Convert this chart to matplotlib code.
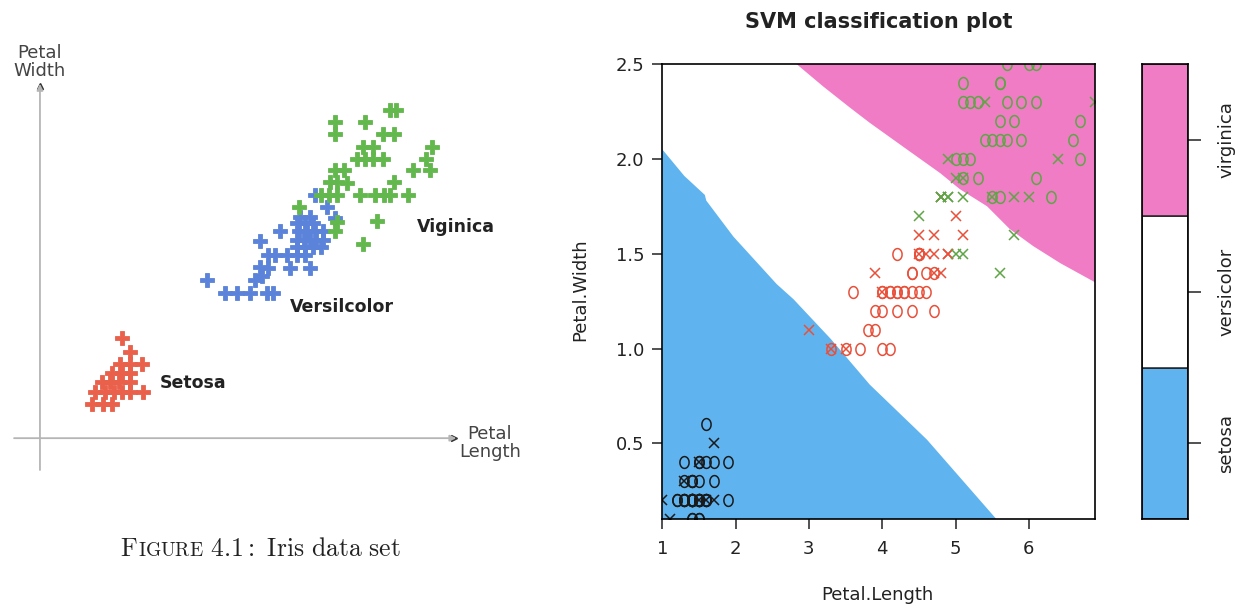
import matplotlib
matplotlib.use("Agg")
import matplotlib.pyplot as plt
import numpy as np
from matplotlib.path import Path

plt.rcParams['font.family'] = 'DejaVu Sans'
plt.rcParams['mathtext.fontset'] = 'cm'

W, H = 1246, 607


def fx(px):
    return px / W


def fy(py):
    return 1 - py / H


# ---------------- left sketch: petal length / width
sk_setosa_len = [1.62, 1.75, 1.59, 1.76, 1.95, 1.46, 1.62, 1.76, 1.30, 1.43, 1.57,
                 1.76, 1.19, 1.35, 1.49, 1.62, 1.76, 1.97, 1.14, 1.32, 1.46]
sk_setosa_wid = [0.62, 0.51, 0.41, 0.41, 0.41, 0.33, 0.33, 0.33, 0.26, 0.26, 0.26,
                 0.26, 0.18, 0.18, 0.18, 0.18, 0.18, 0.18, 0.08, 0.08, 0.08]

sk_versi_len = [3.00, 3.30, 3.49, 3.70, 3.97, 4.07, 3.78, 3.89, 3.86, 4.00, 4.35, 4.68,
                4.00, 4.11, 4.30, 4.46, 4.59, 3.86, 4.19,
                4.46, 4.59, 4.73, 4.86, 4.46, 4.57, 4.68, 4.78, 4.89,
                4.49, 4.62, 4.76, 4.89, 4.46, 4.59, 4.73, 4.51, 4.68,
                4.76, 4.95, 5.08]
sk_versi_wid = [1.10, 0.99, 0.99, 0.99, 0.99, 0.99, 1.10, 1.13, 1.21, 1.20, 1.20, 1.20,
                1.31, 1.31, 1.31, 1.31, 1.31, 1.42, 1.50,
                1.37, 1.37, 1.37, 1.37, 1.43, 1.43, 1.43, 1.43, 1.43,
                1.50, 1.50, 1.50, 1.50, 1.57, 1.57, 1.57, 1.62, 1.62,
                1.80, 1.70, 1.61]

sk_virgi_len = [5.97, 6.07, 5.08, 5.08, 5.57, 5.86, 6.04, 6.65, 5.54, 5.69, 5.43, 5.57,
                5.70, 5.86, 6.56, 6.34, 6.62, 5.08, 5.22, 5.00, 5.11, 5.27, 6.03,
                4.86, 4.99, 5.11, 5.48, 5.73, 5.88, 5.98, 6.27, 4.49, 5.11, 5.08,
                5.76, 5.54]
sk_virgi_wid = [2.50, 2.50, 2.40, 2.30, 2.40, 2.30, 2.30, 2.20, 2.20, 2.20, 2.10, 2.10,
                2.10, 2.10, 2.10, 2.01, 2.01, 2.01, 2.01, 1.91, 1.91, 1.90, 1.91,
                1.80, 1.80, 1.80, 1.80, 1.80, 1.80, 1.80, 1.80, 1.70, 1.58, 1.50,
                1.59, 1.40]

sk_labels = ["Setosa", "Versilcolor", "Viginica"]

# ---------------- right plot: iris petal data, support vectors, decision regions
setosa_len = [1.4, 1.4, 1.3, 1.5, 1.4, 1.7, 1.4, 1.5, 1.4, 1.5, 1.5, 1.6, 1.4, 1.1, 1.2,
              1.5, 1.3, 1.4, 1.7, 1.5, 1.7, 1.5, 1.0, 1.7, 1.9, 1.6, 1.6, 1.5, 1.4, 1.6,
              1.6, 1.5, 1.5, 1.4, 1.5, 1.2, 1.3, 1.4, 1.3, 1.5, 1.3, 1.3, 1.3, 1.6, 1.9,
              1.4, 1.6, 1.4, 1.5, 1.4]
setosa_wid = [0.2, 0.2, 0.2, 0.2, 0.2, 0.4, 0.3, 0.2, 0.2, 0.1, 0.2, 0.2, 0.1, 0.1, 0.2,
              0.4, 0.4, 0.3, 0.3, 0.3, 0.2, 0.4, 0.2, 0.5, 0.2, 0.2, 0.4, 0.2, 0.2, 0.2,
              0.2, 0.4, 0.1, 0.2, 0.2, 0.2, 0.2, 0.1, 0.2, 0.2, 0.3, 0.3, 0.2, 0.6, 0.4,
              0.3, 0.2, 0.2, 0.2, 0.2]
versi_len = [4.7, 4.5, 4.9, 4.0, 4.6, 4.5, 4.7, 3.3, 4.6, 3.9, 3.5, 4.2, 4.0, 4.7, 3.6,
             4.4, 4.5, 4.1, 4.5, 3.9, 4.8, 4.0, 4.9, 4.7, 4.3, 4.4, 4.8, 5.0, 4.5, 3.5,
             3.8, 3.7, 3.9, 5.1, 4.5, 4.5, 4.7, 4.4, 4.1, 4.0, 4.4, 4.6, 4.0, 3.3, 4.2,
             4.2, 4.2, 4.3, 3.0, 4.1]
versi_wid = [1.4, 1.5, 1.5, 1.3, 1.5, 1.3, 1.6, 1.0, 1.3, 1.4, 1.0, 1.5, 1.0, 1.4, 1.3,
             1.4, 1.5, 1.0, 1.5, 1.1, 1.8, 1.3, 1.5, 1.2, 1.3, 1.4, 1.4, 1.7, 1.5, 1.0,
             1.1, 1.0, 1.2, 1.6, 1.5, 1.6, 1.5, 1.3, 1.3, 1.3, 1.2, 1.4, 1.2, 1.0, 1.3,
             1.2, 1.3, 1.3, 1.1, 1.3]
virgi_len = [6.0, 5.1, 5.9, 5.6, 5.8, 6.6, 4.5, 6.3, 5.8, 6.1, 5.1, 5.3, 5.5, 5.0, 5.1,
             5.3, 5.5, 6.7, 6.9, 5.0, 5.7, 4.9, 6.7, 4.9, 5.7, 6.0, 4.8, 4.9, 5.6, 5.8,
             6.1, 6.4, 5.6, 5.1, 5.6, 6.1, 5.6, 5.5, 4.8, 5.4, 5.6, 5.1, 5.1, 5.9, 5.7,
             5.2, 5.0, 5.2, 5.4, 5.1]
virgi_wid = [2.5, 1.9, 2.1, 1.8, 2.2, 2.1, 1.7, 1.8, 1.8, 2.5, 2.0, 1.9, 2.1, 2.0, 2.4,
             2.3, 1.8, 2.2, 2.3, 1.5, 2.3, 2.0, 2.0, 1.8, 2.1, 1.8, 1.8, 1.8, 2.1, 1.6,
             1.9, 2.0, 2.2, 1.5, 1.4, 2.3, 2.4, 1.8, 1.8, 2.1, 2.4, 2.3, 1.9, 2.3, 2.5,
             2.3, 1.9, 2.0, 2.3, 1.8]

# support vectors (index within each class)
setosa_sv = [3, 11, 13, 15, 20, 22, 23, 41]
versi_sv = [2, 3, 4, 6, 7, 9, 10, 13, 18, 20, 22, 26, 27, 33, 35, 36, 48]
virgi_sv = [1, 6, 8, 16, 18, 19, 21, 23, 25, 26, 27, 29, 31, 33, 34, 38, 46, 48, 49]

# decision boundaries
setosa_bnd_x = [1.0, 1.3, 1.58, 1.6, 1.97, 2.56, 2.79, 3.3, 3.83, 4.61, 5.56]
setosa_bnd_y = [2.05, 1.91, 1.81, 1.78, 1.59, 1.34, 1.26, 1.05, 0.81, 0.52, 0.1]
virgi_bnd_x = [2.83, 3.2, 3.56, 3.83, 4.3, 4.79, 5.06, 5.43, 5.74, 6.06, 6.43, 6.9]
virgi_bnd_y = [2.5, 2.38, 2.27, 2.19, 2.06, 1.925, 1.84, 1.75, 1.63, 1.54, 1.45, 1.35]

classes = ["setosa", "versicolor", "virginica"]
region_colors = ["#5fb4f0", "#ffffff", "#f07cc6"]
point_colors = ["#1a1a1a", "#e8503a", "#5ea645"]
sketch_colors = ["#e9604b", "#5b83da", "#62b84c"]

xmin, xmax = 1.0, 6.9
ymin, ymax = 0.1, 2.5

fig = plt.figure(figsize=(W / 100, H / 100), dpi=100)

# ================= left sketch =================
ax0 = fig.add_axes([0, fy(520), 540 / W, 490 / H])
ax0.set_xlim(-0.352, 8.405)
ax0.set_ylim(-0.879, 3.161)
ax0.axis('off')

# sketch axes with arrows
ax0.annotate('', xy=(0.074, 0.890), xytext=(0.074, 0.102), xycoords='axes fraction',
             arrowprops=dict(arrowstyle='-|>', color='#b5b5b5', lw=1.3,
                             mutation_scale=9, shrinkA=0, shrinkB=0))
ax0.annotate('', xy=(0.845, 0.167), xytext=(0.026, 0.167), xycoords='axes fraction',
             arrowprops=dict(arrowstyle='-|>', color='#b5b5b5', lw=1.3,
                             mutation_scale=9, shrinkA=0, shrinkB=0))
# dark arrow heads
ax0.plot([0.074], [0.886], marker='^', ms=5, color='#333333', transform=ax0.transAxes)
ax0.plot([0.840], [0.167], marker='>', ms=5, color='#333333', transform=ax0.transAxes)

sk_len = [sk_setosa_len, sk_versi_len, sk_virgi_len]
sk_wid = [sk_setosa_wid, sk_versi_wid, sk_virgi_wid]
for lx, wy, c in zip(sk_len, sk_wid, sketch_colors):
    ax0.plot(lx, wy, linestyle='none', marker='P', ms=9.5, mew=0.6, mec=c, color=c)

fig.text(fx(40), fy(62), "Petal\nWidth", ha='center', va='center', fontsize=13,
         color='#444444', linespacing=1.0)
fig.text(fx(490), fy(443), "Petal\nLength", ha='center', va='center', fontsize=13,
         color='#444444', linespacing=1.0)
fig.text(fx(160), fy(383), sk_labels[0], ha='left', va='center', fontsize=12.5,
         fontweight='bold', color='#222222')
fig.text(fx(290), fy(307), sk_labels[1], ha='left', va='center', fontsize=12.5,
         fontweight='bold', color='#222222')
fig.text(fx(417), fy(227), sk_labels[2], ha='left', va='center', fontsize=12.5,
         fontweight='bold', color='#222222')

# caption with small caps
renderer = fig.canvas.get_renderer()
cap_x = fx(120)
cap_y = fy(556)
parts = [(r"$\mathrm{F}$", 18.5), (r"$\mathrm{IGURE}$", 14),
         (r"$\mathrm{\ 4.1{:}\ Iris\ data\ set}$", 18.5)]
for s, size in parts:
    t = fig.text(cap_x, cap_y, s, ha='left', va='baseline', fontsize=size, color='#222222')
    bb = t.get_window_extent(renderer)
    cap_x = bb.x1 / fig.bbox.width

# ================= right: SVM plot =================
ax = fig.add_axes([fx(662.3), fy(519.3), (1094.8 - 662.3) / W, (519.3 - 64) / H])
ax.set_xlim(xmin, xmax)
ax.set_ylim(ymin, ymax)

sx = [xmin] + setosa_bnd_x
sy = [ymin] + setosa_bnd_y
ax.fill(sx, sy, color=region_colors[0], lw=0, zorder=1)
vx = virgi_bnd_x + [xmax]
vy = virgi_bnd_y + [ymax]
ax.fill(vx, vy, color=region_colors[2], lw=0, zorder=1)

theta = np.linspace(0, 2 * np.pi, 40)
oval = Path(np.column_stack([0.78 * np.cos(theta), np.sin(theta)]))

all_len = [setosa_len, versi_len, virgi_len]
all_wid = [setosa_wid, versi_wid, virgi_wid]
all_sv = [setosa_sv, versi_sv, virgi_sv]
for lx, wy, sv, c in zip(all_len, all_wid, all_sv, point_colors):
    lx = np.array(lx)
    wy = np.array(wy)
    is_sv = np.zeros(len(lx), bool)
    is_sv[sv] = True
    ax.plot(lx[~is_sv], wy[~is_sv], linestyle='none', marker=oval, ms=8.5,
            mfc='none', mec=c, mew=1.1, zorder=3, clip_on=True)
    ax.plot(lx[is_sv], wy[is_sv], linestyle='none', marker='x', ms=7,
            mec=c, mew=1.1, zorder=4, clip_on=True)

ax.set_xticks([1, 2, 3, 4, 5, 6])
ax.set_yticks([0.5, 1.0, 1.5, 2.0, 2.5])
ax.set_yticklabels(["0.5", "1.0", "1.5", "2.0", "2.5"])
ax.tick_params(direction='out', length=7, width=1.1, labelsize=13, colors='#222222')
ax.tick_params(axis='x', pad=8)
ax.tick_params(axis='y', pad=6)
for sp in ax.spines.values():
    sp.set_linewidth(1.2)
    sp.set_zorder(5)

fig.text(fx(879), fy(22), "SVM classification plot", ha='center', va='center',
         fontsize=15, fontweight='bold', color='#222222')
fig.text(fx(877), fy(595), "Petal.Length", ha='center', va='center', fontsize=13,
         color='#222222')
fig.text(fx(580), fy(290), "Petal.Width", ha='center', va='center', fontsize=13,
         rotation=90, color='#222222')

# ================= key =================
axk = fig.add_axes([fx(1142), fy(519.3), (1188 - 1142) / W, (519.3 - 64) / H])
axk.bar([0.5] * 3, [1, 1, 1], bottom=[0, 1, 2], width=1, color=region_colors,
        edgecolor='#222222', linewidth=1.1)
axk.set_xlim(0, 1)
axk.set_ylim(0, 3)
axk.set_xticks([])
axk.yaxis.tick_right()
axk.set_yticks([0.5, 1.5, 2.5])
axk.set_yticklabels(classes, rotation=90, va='center')
axk.tick_params(axis='y', direction='out', length=9, width=1.1, labelsize=13, pad=12,
                colors='#222222')
for sp in axk.spines.values():
    sp.set_linewidth(1.2)

fig.savefig("out.png", dpi=100)
